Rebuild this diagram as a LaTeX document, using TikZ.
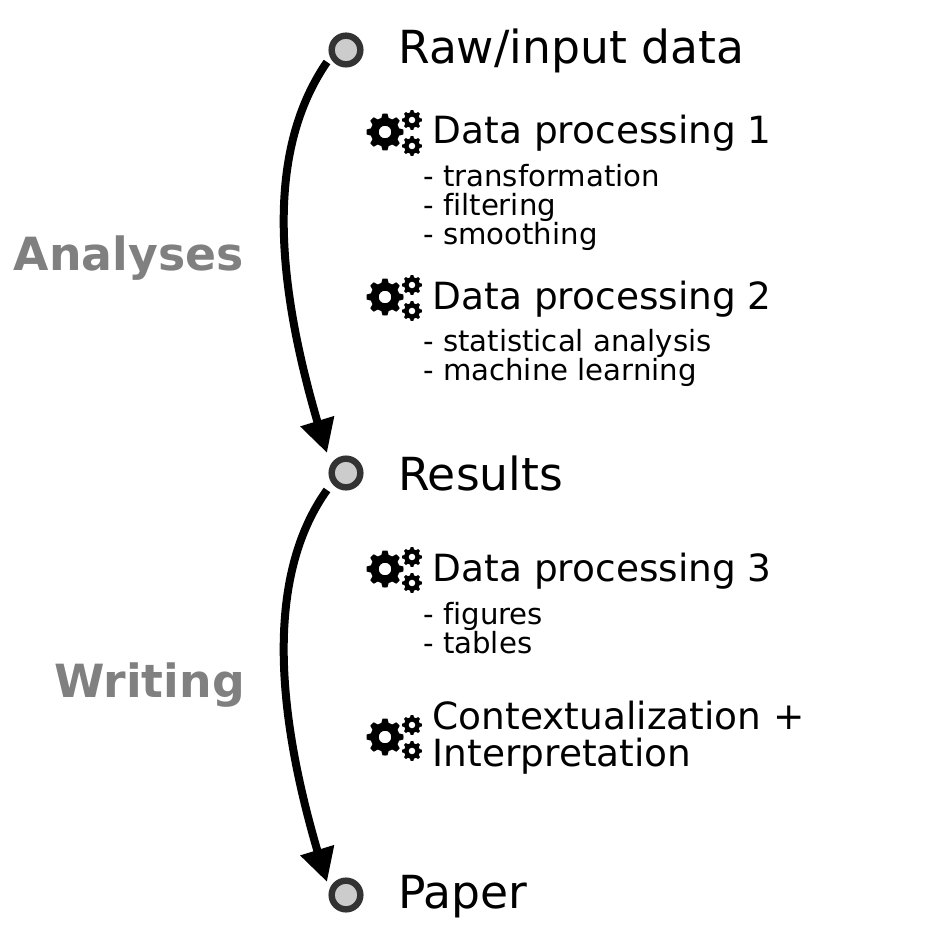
\documentclass[tikz,border=0pt]{standalone}
\usepackage{fontspec}
\setmainfont[Ligatures=NoCommon]{DejaVu Sans}
\usetikzlibrary{arrows.meta,bending}
\definecolor{stagefill}{HTML}{CCCCCC}
\definecolor{stageline}{HTML}{333333}
\definecolor{phasegray}{HTML}{808080}
\tikzset{
  x=0.75pt,y=-0.75pt,
  stage/.style={circle,draw=stageline,fill=stagefill,line width=4.8pt,minimum size=21.5pt,inner sep=0pt},
  stagetext/.style={anchor=base west,font=\fontsize{34.2}{40}\selectfont,inner sep=0pt},
  steptext/.style={anchor=base west,font=\fontsize{28.1}{28}\selectfont,inner sep=0pt,align=left},
  subtext/.style={anchor=base west,font=\fontsize{21.9}{21.8}\selectfont,inner sep=0pt,align=left},
  phase/.style={anchor=base east,font=\fontsize{34.3}{40}\selectfont\bfseries,text=phasegray,inner sep=0pt},
  flow/.style={line width=6pt,-{Triangle[length=25pt,width=25pt,flex]}},
  pics/gear/.style={code={
    \fill[even odd rule,black]
      plot[smooth cycle,tension=0.12,samples=48,domain=0:352.5,variable=\t]
        ({(#1)*(0.78+0.22*(cos(8*\t)>0?1:0))*cos(\t)},{(#1)*(0.78+0.22*(cos(8*\t)>0?1:0))*sin(\t)})
      (0,0) circle[radius=0.34*(#1)];
  }},
  pics/gearset/.style={code={
    \pic at (0,0) {gear=18.5};
    \pic at (27,-12) {gear=10};
    \pic at (27,14) {gear=10};
  }},
}
\begin{document}
\begin{tikzpicture}
\useasboundingbox (0,0) rectangle (945,945);
\node[stage] (raw) at (346,50) {};
\node[stage] (results) at (346,473) {};
\node[stage] (paper) at (346,895) {};
\node[stagetext] (rawt) at (398,64) {Raw/input data};
\node[stagetext] (rest) at (398,490) {Results};
\node[stagetext] (papt) at (398,908) {Paper};

\coordinate (a1) at (327,62);
\coordinate (t1) at (327,453);
\coordinate (a2) at (327,490);
\coordinate (t2) at (327,882);
\draw[flow] (a1) .. controls (277,135) and (262,250) .. (t1);
\draw[flow] (a2) .. controls (277,560) and (262,680) .. (t2);

\node[phase] (an) at (244,270) {Analyses};
\node[phase] (wr) at (245,697) {Writing};

\pic at (385,132) {gearset};
\node[steptext] (d1) at (432.5,144) {Data processing 1};
\node[subtext] (d1a) at (423,186) {- transformation};
\node[subtext] (d1b) at (423,215) {- filtering};
\node[subtext] (d1c) at (423,244) {- smoothing};

\pic at (385,297) {gearset};
\node[steptext] (d2) at (432.5,309) {Data processing 2};
\node[subtext] (d2a) at (423,351) {- statistical analysis};
\node[subtext] (d2b) at (423,380) {- machine learning};

\pic at (385,569) {gearset};
\node[steptext] (d3) at (432.5,581) {Data processing 3};
\node[subtext] (d3a) at (423,624) {- figures};
\node[subtext] (d3b) at (423,653) {- tables};

\pic at (385,737) {gearset};
\node[steptext] (c1) at (432.5,729) {Contextualization +};
\node[steptext] (c2) at (432.5,766) {Interpretation};
\end{tikzpicture}
\end{document}
